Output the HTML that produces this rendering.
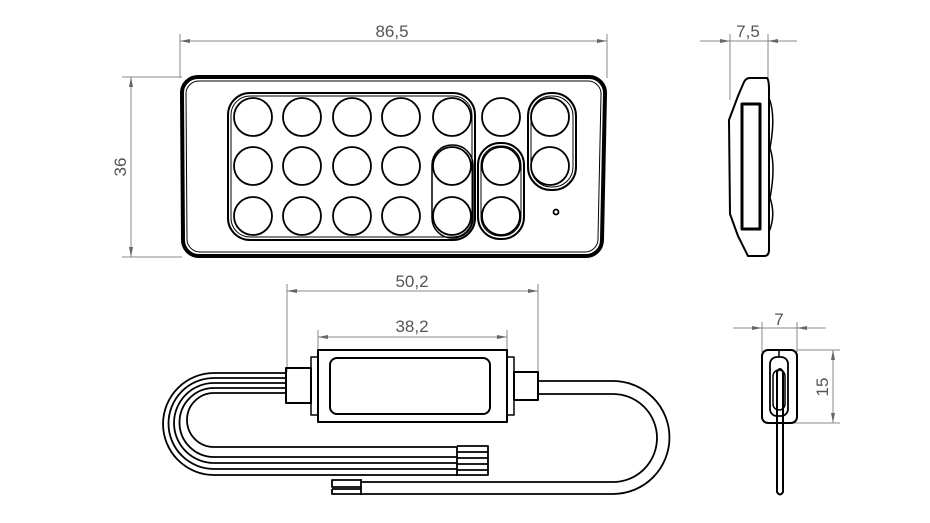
<!DOCTYPE html>
<html><head><meta charset="utf-8"><style>
html,body{margin:0;padding:0;background:#fff;}
svg{display:block;}
text{font-family:"Liberation Sans",sans-serif;font-size:17px;fill:#555;}
</style></head><body>
<svg width="930" height="523" viewBox="0 0 930 523" xmlns="http://www.w3.org/2000/svg">
<defs>
<marker id="a" viewBox="0 0 10 6" refX="10" refY="3" markerWidth="10" markerHeight="6" orient="auto-start-reverse" markerUnits="userSpaceOnUse"><path d="M0,1 L10,3 L0,5z" fill="#666"/></marker>
</defs>
<g stroke="#888" stroke-width="1" fill="none">
<line x1="180" y1="34" x2="180" y2="78"/><line x1="607" y1="34" x2="607" y2="78"/>
<line x1="180" y1="41" x2="607" y2="41" marker-start="url(#a)" marker-end="url(#a)"/>
<line x1="122" y1="77" x2="182" y2="77"/><line x1="122" y1="257" x2="182" y2="257"/>
<line x1="131" y1="77" x2="131" y2="257" marker-start="url(#a)" marker-end="url(#a)"/>
<line x1="730" y1="34" x2="730" y2="100"/><line x1="768" y1="34" x2="768" y2="80"/>
<line x1="700" y1="41" x2="730" y2="41" marker-end="url(#a)"/>
<line x1="797" y1="41" x2="768" y2="41" marker-end="url(#a)"/>
<line x1="730" y1="41" x2="768" y2="41"/>
<line x1="287" y1="284" x2="287" y2="372"/><line x1="538" y1="284" x2="538" y2="376"/>
<line x1="287" y1="291" x2="538" y2="291" marker-start="url(#a)" marker-end="url(#a)"/>
<line x1="318" y1="330" x2="318" y2="352"/><line x1="507" y1="330" x2="507" y2="352"/>
<line x1="318" y1="337" x2="507" y2="337" marker-start="url(#a)" marker-end="url(#a)"/>
<line x1="762" y1="322" x2="762" y2="352"/><line x1="797" y1="322" x2="797" y2="352"/>
<line x1="733" y1="328" x2="762" y2="328" marker-end="url(#a)"/>
<line x1="826" y1="328" x2="797" y2="328" marker-end="url(#a)"/>
<line x1="762" y1="328" x2="797" y2="328"/>
<line x1="797" y1="350" x2="840" y2="350"/><line x1="780" y1="423" x2="840" y2="423"/>
<line x1="833" y1="350" x2="833" y2="423" marker-start="url(#a)" marker-end="url(#a)"/>
</g>
<text x="392" y="37" text-anchor="middle">86,5</text>
<text transform="translate(126,167) rotate(-90)" text-anchor="middle">36</text>
<text x="748" y="37" text-anchor="middle">7,5</text>
<text x="412" y="287" text-anchor="middle">50,2</text>
<text x="412" y="332" text-anchor="middle">38,2</text>
<text x="779" y="325" text-anchor="middle">7</text>
<text transform="translate(828,387) rotate(-90)" text-anchor="middle">15</text>

<g fill="none" stroke="#000" stroke-linejoin="round">
<path d="M198,77 L590,77 A16,16 0 0 1 605,94 L602,240 A16,16 0 0 1 586,256 L198,256 A16,16 0 0 1 183,240 L182,94 A16,16 0 0 1 198,77z" stroke-width="4"/>
<path d="M200,81 L588,81 A13,13 0 0 1 601,95 L598,238 A13,13 0 0 1 585,252 L200,252 A13,13 0 0 1 187,238 L186,95 A13,13 0 0 1 200,81z" stroke-width="1"/>
<rect x="228" y="93" width="247" height="147" rx="22" stroke-width="2"/>
<rect x="231" y="96" width="241" height="141" rx="19" stroke-width="1"/>
<rect x="432" y="145" width="41" height="93" rx="20" stroke-width="1.5"/>
<rect x="478" y="143" width="46" height="96" rx="22" stroke-width="2"/>
<rect x="481" y="146" width="40" height="90" rx="19" stroke-width="1"/>
<rect x="528" y="93" width="48" height="97" rx="23" stroke-width="2"/>
<rect x="531" y="96" width="42" height="91" rx="20" stroke-width="1"/>
<g stroke-width="1.8">
<circle cx="253" cy="117" r="19"/><circle cx="302" cy="117" r="19"/><circle cx="352" cy="117" r="19"/><circle cx="401" cy="117" r="19"/><circle cx="452" cy="117" r="19"/><circle cx="501" cy="117" r="19"/><circle cx="550" cy="117" r="19"/>
<circle cx="253" cy="166" r="19"/><circle cx="302" cy="166" r="19"/><circle cx="352" cy="166" r="19"/><circle cx="401" cy="166" r="19"/><circle cx="452" cy="166" r="19"/><circle cx="501" cy="166" r="19"/><circle cx="550" cy="166" r="19"/>
<circle cx="253" cy="216" r="19"/><circle cx="302" cy="216" r="19"/><circle cx="352" cy="216" r="19"/><circle cx="401" cy="216" r="19"/><circle cx="452" cy="216" r="19"/><circle cx="501" cy="216" r="19"/>
<circle cx="556" cy="212" r="2.5"/>
</g>
<path d="M750,78 L767,78 Q769,80 769,90 L769,250 Q769,256 764,256 L748,256 L738,236 L730,214 L729,120 L738,96 L744,82 Q746,78 750,78z" stroke-width="2"/>
<rect x="742" y="104" width="18" height="125" stroke-width="3"/>
<path d="M769,98 Q776,115 770,148 Q776,166 770,198 Q776,215 769,232" stroke-width="1.5"/>
<rect x="318" y="350" width="189" height="72" stroke-width="2"/>
<rect x="330" y="358" width="160" height="56" rx="7" stroke-width="2"/>
<path d="M318,357 L311,357 L311,368 M311,403 L311,415 L318,415" stroke-width="1.5"/>
<path d="M507,357 L514,357 L514,372 M514,400 L514,415 L507,415" stroke-width="1.5"/>
<rect x="286" y="368" width="25" height="35" stroke-width="2"/>
<rect x="514" y="372" width="24" height="28" stroke-width="2"/>
<g stroke-width="1.8">
<path d="M286,373 L214,373 A51,51 0 0 0 214,475 L457,475"/>
<path d="M286,378 L214,378 A45.5,45.5 0 0 0 214,469 L457,469"/>
<path d="M286,383 L214,383 A40,40 0 0 0 214,463 L457,463"/>
<path d="M286,388 L214,388 A34.5,34.5 0 0 0 214,457 L457,457"/>
<path d="M286,393 L214,393 A27,27 0 0 0 214,447 L457,447"/>
<path d="M457,446 L488,446 L488,475 L457,475 M457,452 L488,452 M457,458 L488,458 M457,464 L488,464 M457,470 L488,470 M457,446 L457,476"/>
<path d="M538,381 L613,381 A56.5,56.5 0 0 1 613,494 L361,494"/>
<path d="M538,394 L613,394 A44,44 0 0 1 613,482 L361,482"/>
<path d="M361,480 L332,480 L332,487 L361,487 M332,489 L361,489 L361,494 L332,494 L332,489 M361,479 L361,495"/>
</g>
<rect x="762" y="350" width="35" height="73" rx="6" stroke-width="2"/>
<rect x="770" y="357" width="18" height="59" rx="7" stroke-width="1.8"/>
<line x1="779" y1="350" x2="779" y2="357" stroke-width="1.5"/>
<rect x="773" y="370" width="12" height="40" rx="6" stroke-width="1.5"/>
<path d="M777,372 L777,492 Q780,497 783,492 L783,372 Q780,366 777,372z" stroke-width="2"/>
</g>
</svg>
</body></html>
